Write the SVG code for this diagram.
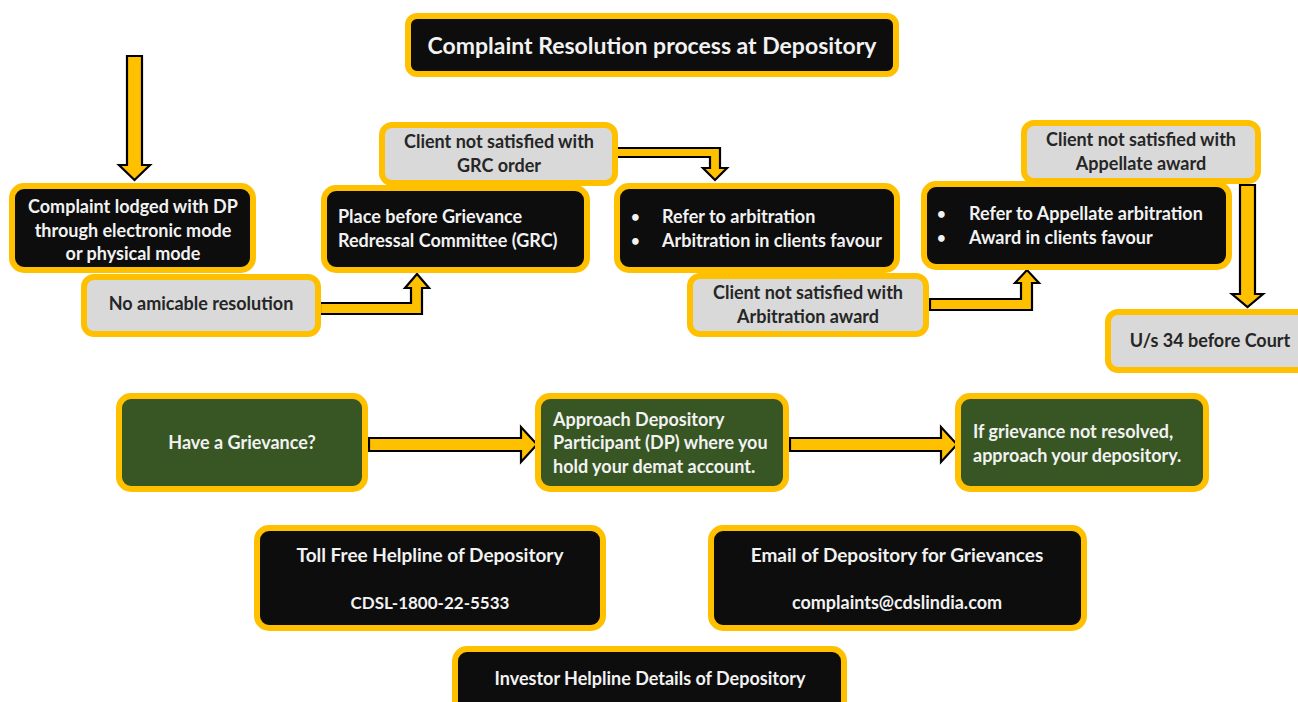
<svg xmlns="http://www.w3.org/2000/svg" width="1298" height="702" viewBox="0 0 1298 702">
<style>
.dk{fill:#0D0D0D;stroke:#FFC000;stroke-width:6}
.gy{fill:#D9D9D9;stroke:#FFC000;stroke-width:6}
.gr{fill:#375623;stroke:#FFC000;stroke-width:6}
.ar{fill:#FFC000;stroke:#000;stroke-width:2.2;stroke-linejoin:miter}
text{font-family:Lato,"Liberation Sans",sans-serif;font-weight:bold;font-size:18px}
.w{fill:#F2F2F2}
.b{fill:#262626}
.c{text-anchor:middle}
.bl{font-size:15px}
</style>
<rect width="1298" height="702" fill="#fff"/>
<g id="connectors">
<polygon class="ar" points="127,56 142,56 142,165 150,165 134.5,180 119,165 127,165"/>
<polygon class="ar" points="320,303 411,303 411,288 405,288 417,274 429,288 422,288 422,314 320,314"/>
<polygon class="ar" points="616,148 720,148 720,168 727,168 715,180 703,168 710,168 710,157 616,157"/>
<polygon class="ar" points="930,299 1021,299 1021,283 1015,283 1027,270 1039,283 1032,283 1032,310 930,310"/>
<polygon class="ar" points="1240,185 1255,185 1255,294 1263,294 1247.5,307 1232,294 1240,294"/>
<polygon class="ar" points="369,438 521,438 521,427 537,444.5 521,462 521,451 369,451"/>
<polygon class="ar" points="790,438 941,438 941,427 957,444.5 941,462 941,451 790,451"/>
</g>
<g id="title"><rect class="dk" x="408" y="16" width="488" height="58" rx="9"/><text class="w c" x="652" y="54" style="font-size:23px">Complaint Resolution process at Depository</text></g>
<g id="complaint"><rect class="dk" x="12" y="186" width="241" height="84" rx="12"/><text class="w c" x="133" y="213">Complaint lodged with DP</text><text class="w c" x="133" y="237">through electronic mode</text><text class="w c" x="133" y="260">or physical mode</text></g>
<g id="noamicable"><rect class="gy" x="84" y="277" width="234" height="57" rx="10"/><text class="b c" x="201" y="310">No amicable resolution</text></g>
<g id="grc"><rect class="dk" x="324" y="188" width="263" height="82" rx="12"/><text class="w" x="338" y="223">Place before Grievance</text><text class="w" x="338" y="247">Redressal Committee (GRC)</text></g>
<g id="grcorder"><rect class="gy" x="382" y="125" width="233" height="58" rx="10"/><text class="b c" x="499" y="148">Client not satisfied with</text><text class="b c" x="499" y="172">GRC order</text></g>
<g id="arbitration"><rect class="dk" x="617" y="186" width="280" height="84" rx="12"/><text class="w bl" x="631" y="222">•</text><text class="w" x="662" y="223">Refer to arbitration</text><text class="w bl" x="631" y="246">•</text><text class="w" x="662" y="247">Arbitration in clients favour</text></g>
<g id="arbaward"><rect class="gy" x="690" y="276" width="236" height="58" rx="10"/><text class="b c" x="808" y="299">Client not satisfied with</text><text class="b c" x="808" y="323">Arbitration award</text></g>
<g id="appellate"><rect class="dk" x="924" y="184" width="305" height="83" rx="12"/><text class="w bl" x="937" y="219">•</text><text class="w" x="969" y="220">Refer to Appellate arbitration</text><text class="w bl" x="937" y="243">•</text><text class="w" x="969" y="244">Award in clients favour</text></g>
<g id="appaward"><rect class="gy" x="1024" y="123" width="234" height="58" rx="10"/><text class="b c" x="1141" y="146">Client not satisfied with</text><text class="b c" x="1141" y="170">Appellate award</text></g>
<g id="court"><rect class="gy" x="1108" y="312" width="200" height="58" rx="10"/><text class="b c" x="1210" y="347">U/s 34 before Court</text></g>
<g id="grievance"><rect class="gr" x="119" y="396" width="246" height="93" rx="12"/><text class="w c" x="242" y="449">Have a Grievance?</text></g>
<g id="approachdp"><rect class="gr" x="538" y="396" width="248" height="93" rx="12"/><text class="w" x="553" y="426">Approach Depository</text><text class="w" x="553" y="449">Participant (DP) where you</text><text class="w" x="553" y="473">hold your demat account.</text></g>
<g id="approachdep"><rect class="gr" x="958" y="396" width="248" height="93" rx="12"/><text class="w" x="973" y="438">If grievance not resolved,</text><text class="w" x="973" y="462">approach your depository.</text></g>
<g id="tollfree"><rect class="dk" x="257" y="528" width="346" height="100" rx="12"/><text class="w c" x="430" y="562" style="font-size:19px">Toll Free Helpline of Depository</text><text class="w c" x="430" y="609" style="font-size:17px">CDSL-1800-22-5533</text></g>
<g id="email"><rect class="dk" x="711" y="528" width="373" height="100" rx="12"/><text class="w c" x="897" y="562" style="font-size:19px">Email of Depository for Grievances</text><text class="w c" x="897" y="609">complaints@cdslindia.com</text></g>
<g id="investor"><rect class="dk" x="455" y="649" width="389" height="70" rx="12"/><text class="w c" x="650" y="685">Investor Helpline Details of Depository</text></g>
</svg>
